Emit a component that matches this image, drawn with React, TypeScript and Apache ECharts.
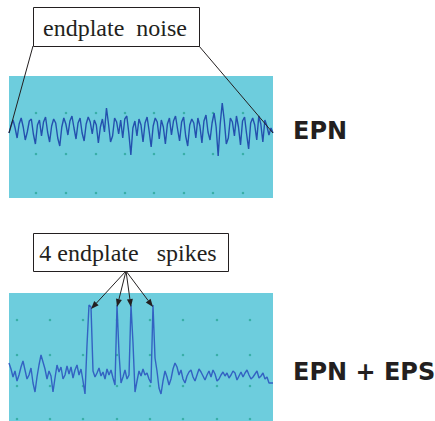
import React, { useEffect, useRef } from "react";
import * as echarts from "echarts";

// Endplate noise trace (µV-like units, relative to baseline)
const noiseEPN = [
  -3, 4, 10, 2, -8, 6, 12, 3, -10, -2,
  9, 11, -4, -14, 5, 10, -6, 8, 13, -2,
  -12, 4, 11, 7, -8, -16, 3, 12, 6, -5,
  9, 14, 2, -9, 7, 12, -3, -11, 6, 13,
  8, -4, 10, 5, -13, 3, 11, -2, 22, 6,
  -12, -6, 12, 8, -4, 10, -8, 11, 14, -3,
  -25, 2, 9, -6, 11, 5, -12, 7, 13, -1,
  -17, 4, 12, 8, -9, 10, 3, -14, 6, 12,
  -5, 9, 14, 1, -11, 8, 13, -6, -16, 5,
  11, 7, -8, 12, 4, -13, 9, 15, -2, -10,
  7, 17, 3, -26, 6, 27, 10, -14, -8, 12,
  8, -6, 14, 3, -15, 9, 13, -4, -19, 7,
  12, 5, -10, 14, 6, -12, 10, 4, -5, 2,
  -3,
];

// Endplate noise + 4 endplate spikes trace
const noiseEPS = [
  10, 4, -4, 2, -8, -2, 6, 12, 3, -6,
  -2, 5, -10, -19, -4, 8, 18, 11, 4, -6,
  2, -3, -19, -5, 8, 1, 6, -6, -2, 7,
  -1, 6, -5, 3, 8, -2, 4, -8, -21, 28,
  68, 66, 2, -4, 0, 5, -3, 1, -6, 4,
  -2, 3, -5, -12, 68, 20, -10, -4, 3, -6,
  -2, 68, 30, -19, -8, 2, -3, 4, -2, 0,
  -6, -10, 68, 15, 2, -15, -21, -8, 2, -4,
  -12, -6, 4, 10, 6, -2, 3, -6, -10, -3,
  1, 3, -4, -8, -2, 4, 1, -3, -7, -2,
  2, -4, 3, -1, -8, -6, -2, 1, -3, 0,
  -5, -2, 2, 0, -7, -3, 1, -4, 0, 3,
  -2, -6, -4, -1, 2, -5, -3, 0, -6, -4,
  -10, -10, -10,
];

// Reference dot grid on the display (time, level)
const dotTimesTop = [27, 57, 87, 116, 145, 175, 204, 234];
const dotLevelsTop = [17, -24, -63];
const dotTimesBottom = [8, 41, 74, 108, 141, 174, 208, 241];
const dotLevelsBottom = [53, 18, -13, -46];

const boxLabels = ["endplate  noise", "4 endplate   spikes"];
const sideLabels = ["EPN", "EPN + EPS"];

const SPAN = 264;
const CYAN = "#6dcddd";
const SERIF = "'Liberation Serif', 'Times New Roman', serif";

export default function App() {
  const ref = useRef<HTMLDivElement>(null);

  useEffect(() => {
    const chart = echarts.init(ref.current!, null, { renderer: "svg" });
    const toPairs = (arr: number[]) =>
      arr.map((v, i) => [(i * SPAN) / (arr.length - 1), v]);
    const dots = (ts: number[], ls: number[]) =>
      ts.flatMap((t) => ls.map((l) => [t, l]));

    const top = toPairs(noiseEPN);
    const bottom = toPairs(noiseEPS);

    chart.setOption({
      animation: false,
      grid: [
        { left: 9, top: 76, width: SPAN, height: 122, show: true, backgroundColor: CYAN, borderWidth: 0 },
        { left: 9, top: 293, width: SPAN, height: 128, show: true, backgroundColor: CYAN, borderWidth: 0 },
      ],
      xAxis: [
        { type: "value", gridIndex: 0, min: 0, max: SPAN, show: false },
        { type: "value", gridIndex: 1, min: 0, max: SPAN, show: false },
      ],
      yAxis: [
        { type: "value", gridIndex: 0, min: -68, max: 54, show: false },
        { type: "value", gridIndex: 1, min: -48, max: 80, show: false },
      ],
      series: [
        {
          type: "scatter", xAxisIndex: 0, yAxisIndex: 0,
          data: dots(dotTimesTop, dotLevelsTop),
          symbolSize: 2.5, itemStyle: { color: "#2aa597" }, silent: true,
        },
        {
          type: "scatter", xAxisIndex: 1, yAxisIndex: 1,
          data: dots(dotTimesBottom, dotLevelsBottom),
          symbolSize: 2.5, itemStyle: { color: "#2aa597" }, silent: true,
        },
        {
          type: "line", xAxisIndex: 0, yAxisIndex: 0, data: top,
          showSymbol: false, lineStyle: { color: "#2450ae", width: 1.4 }, z: 3,
        },
        {
          type: "line", xAxisIndex: 1, yAxisIndex: 1, data: bottom,
          showSymbol: false, lineStyle: { color: "#3362c2", width: 1.4 }, z: 3,
        },
      ],
    });

    // Annotation geometry computed from the data through the axes
    const first = chart.convertToPixel({ gridIndex: 0 }, top[0]) as number[];
    const last = chart.convertToPixel({ gridIndex: 0 }, top[top.length - 1]) as number[];

    // spike tops: last index of each run above 50
    const spikeIdx: number[] = [];
    noiseEPS.forEach((v, i) => {
      if (v > 50 && !(noiseEPS[i + 1] > 50)) spikeIdx.push(i);
    });
    const start = [126, 271];
    const arrows: any[] = [];
    spikeIdx.forEach((i) => {
      const p = chart.convertToPixel({ gridIndex: 1 }, bottom[i]) as number[];
      const tip = [p[0], p[1] + 2];
      const dx = tip[0] - start[0];
      const dy = tip[1] - start[1];
      const len = Math.hypot(dx, dy);
      const ux = dx / len, uy = dy / len;
      const bx = tip[0] - ux * 8, by = tip[1] - uy * 8;
      arrows.push({
        type: "line",
        shape: { x1: start[0], y1: start[1], x2: bx, y2: by },
        style: { stroke: "#231f20", lineWidth: 1 },
        z: 10,
      });
      arrows.push({
        type: "polygon",
        shape: {
          points: [
            [tip[0], tip[1]],
            [bx - uy * 3, by + ux * 3],
            [bx + uy * 3, by - ux * 3],
          ],
        },
        style: { fill: "#231f20" },
        z: 10,
      });
    });

    chart.setOption({
      graphic: [
        {
          type: "line",
          shape: { x1: 33, y1: 46, x2: first[0], y2: first[1] },
          style: { stroke: "#231f20", lineWidth: 1 }, z: 10,
        },
        {
          type: "line",
          shape: { x1: 199, y1: 46, x2: last[0], y2: last[1] },
          style: { stroke: "#231f20", lineWidth: 1 }, z: 10,
        },
        {
          type: "rect",
          shape: { x: 33.5, y: 7.5, width: 166, height: 39 },
          style: { fill: "#ffffff", stroke: "#231f20", lineWidth: 1 }, z: 11,
        },
        {
          type: "text", x: 115, y: 28, z: 12,
          style: {
            text: boxLabels[0], fontFamily: SERIF, fontSize: 24, fill: "#231f20",
            align: "center", verticalAlign: "middle",
          },
        },
        {
          type: "rect",
          shape: { x: 33.5, y: 233.5, width: 195, height: 38 },
          style: { fill: "#ffffff", stroke: "#231f20", lineWidth: 1 }, z: 11,
        },
        {
          type: "text", x: 128, y: 253, z: 12,
          style: {
            text: boxLabels[1], fontFamily: SERIF, fontSize: 24, fill: "#231f20",
            align: "center", verticalAlign: "middle",
          },
        },
        ...arrows,
        {
          type: "text", x: 293, y: 131, z: 12,
          style: {
            text: sideLabels[0], fontFamily: "DejaVu Sans", fontWeight: "bold", fontSize: 24, fill: "#231f20",
            align: "left", verticalAlign: "middle",
          },
        },
        {
          type: "text", x: 293, y: 372, z: 12,
          style: {
            text: sideLabels[1], fontFamily: "DejaVu Sans", fontWeight: "bold", fontSize: 24, fill: "#231f20",
            align: "left", verticalAlign: "middle",
          },
        },
      ],
    });

    return () => chart.dispose();
  }, []);

  return (
    <div
      ref={ref}
      style={{ position: "absolute", left: 0, top: 0, width: 435, height: 421, background: "#ffffff" }}
    />
  );
}
